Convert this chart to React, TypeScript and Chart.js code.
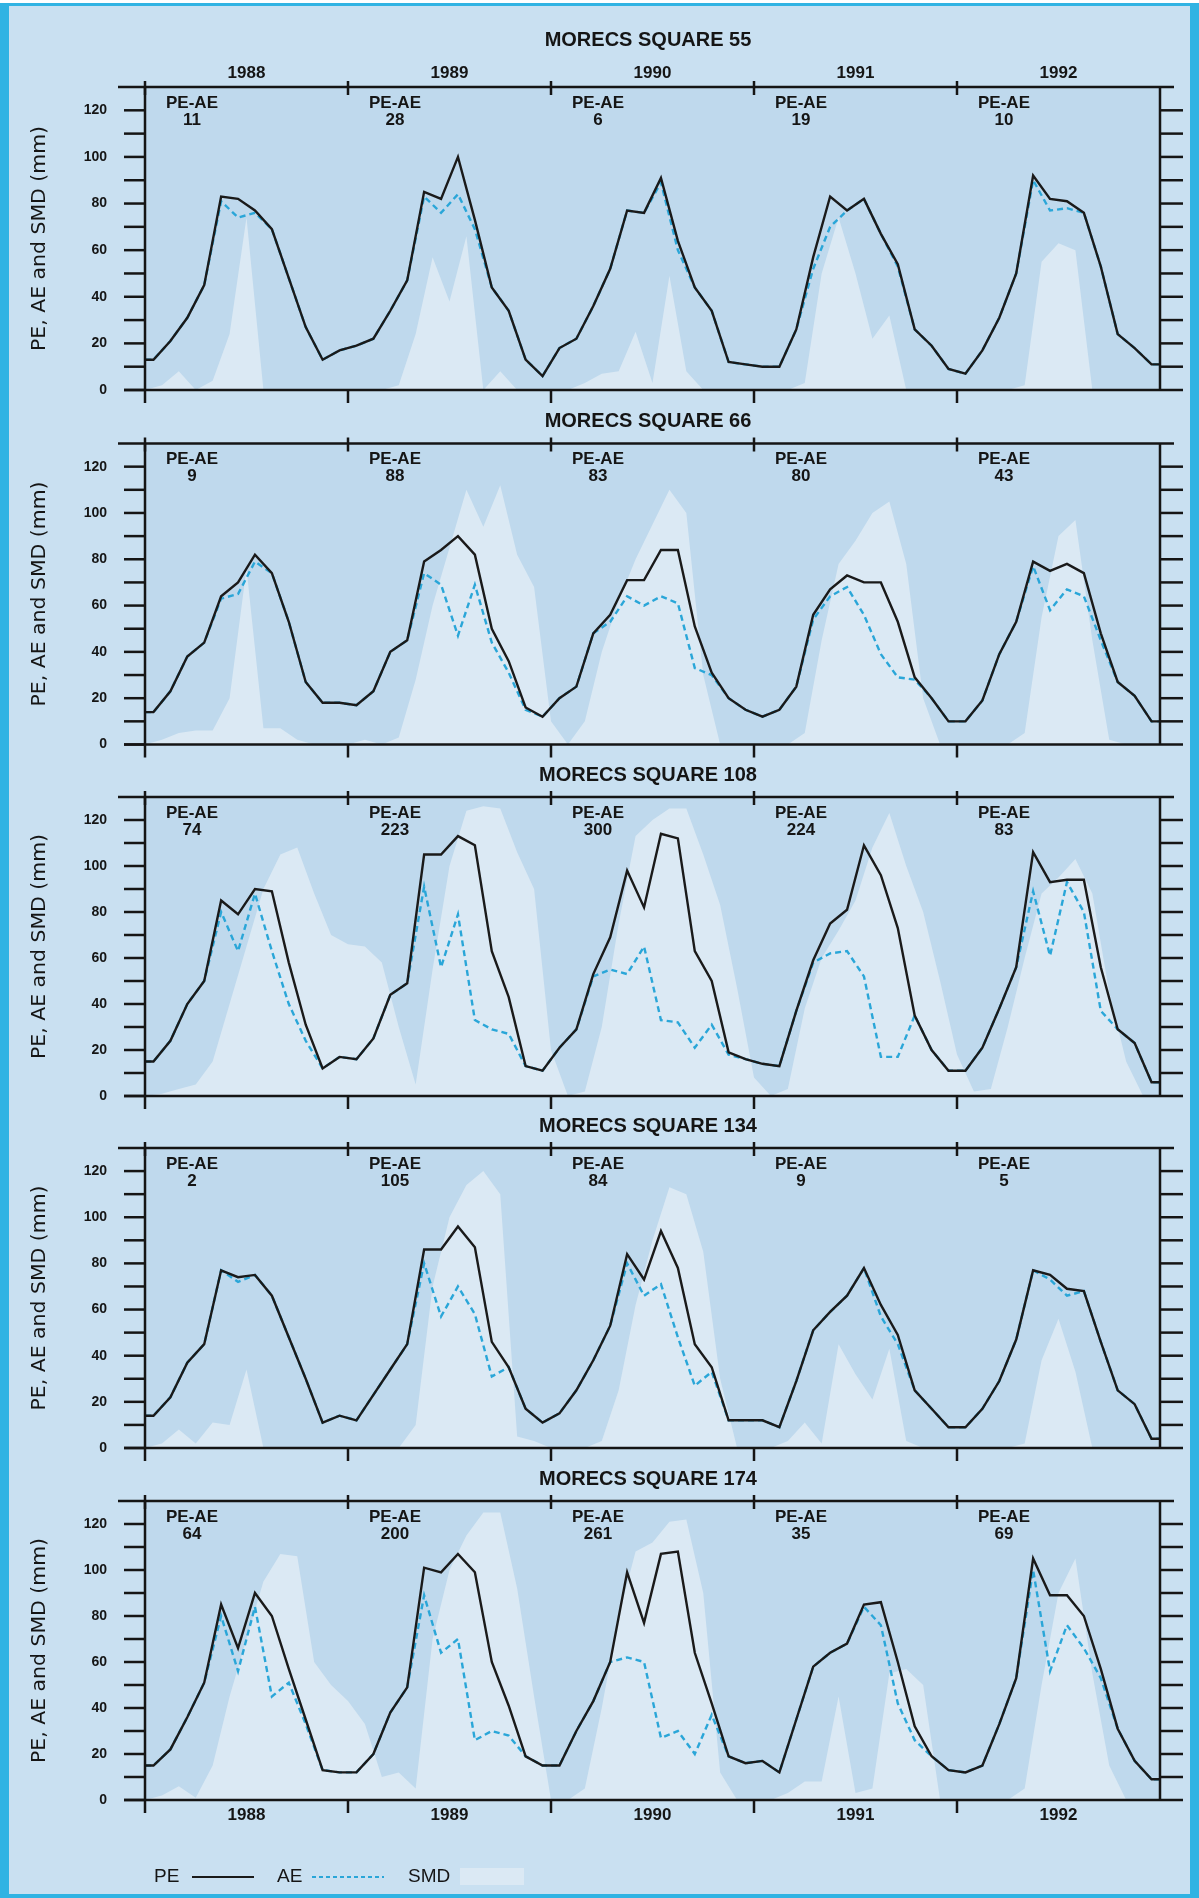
import React, { useEffect, useRef } from 'react';
import { Chart, registerables } from 'chart.js';

Chart.register(...registerables);

// ---------------- data ----------------
const YEARS = ['1988', '1989', '1990', '1991', '1992'];
const Y_TICKS = [0, 20, 40, 60, 80, 100, 120];
const TITLES = ['MORECS SQUARE 55', 'MORECS SQUARE 66', 'MORECS SQUARE 108', 'MORECS SQUARE 134', 'MORECS SQUARE 174'];

// monthly PE (mm), Jan 1988 .. Dec 1992
const PE_55 = [13, 21, 31, 45, 83, 82, 77, 69, 48, 27, 13, 17, 19, 22, 34, 47, 85, 82, 100, 73, 44, 34, 13, 6, 18, 22, 36, 52, 77, 76, 91, 64, 44, 34, 12, 11, 10, 10, 26, 57, 83, 77, 82, 67, 54, 26, 19, 9, 7, 17, 31, 50, 92, 82, 81, 76, 53, 24, 18, 11];
const AE_55 = [13, 21, 31, 45, 81, 74, 76, 69, 48, 27, 13, 17, 19, 22, 34, 47, 83, 76, 84, 69, 44, 34, 13, 6, 18, 22, 36, 52, 77, 76, 89, 60, 44, 34, 12, 11, 10, 10, 26, 52, 70, 77, 82, 67, 53, 26, 19, 9, 7, 17, 31, 50, 90, 77, 78, 76, 53, 24, 18, 11];
const SMD_55 = [0, 2, 8, 0, 4, 24, 74, 0, 0, 0, 0, 0, 0, 0, 0, 2, 24, 57, 38, 66, 0, 8, 0, 0, 0, 0, 3, 7, 8, 25, 3, 49, 8, 0, 0, 0, 0, 0, 0, 3, 50, 74, 50, 22, 32, 0, 0, 0, 0, 0, 0, 0, 2, 55, 63, 60, 0, 0, 0, 0, 0];
const PEAE_55 = ['11', '28', '6', '19', '10'];

const PE_66 = [14, 23, 38, 44, 64, 70, 82, 74, 53, 27, 18, 18, 17, 23, 40, 45, 79, 84, 90, 82, 50, 36, 16, 12, 20, 25, 48, 56, 71, 71, 84, 84, 51, 31, 20, 15, 12, 15, 25, 56, 67, 73, 70, 70, 53, 29, 20, 10, 10, 19, 39, 53, 79, 75, 78, 74, 48, 27, 21, 10];
const AE_66 = [14, 23, 38, 44, 63, 65, 79, 74, 53, 27, 18, 18, 17, 23, 40, 45, 74, 69, 47, 69, 44, 31, 15, 12, 20, 25, 48, 53, 64, 60, 64, 61, 33, 30, 20, 15, 12, 15, 25, 54, 64, 68, 56, 39, 29, 28, 20, 10, 10, 19, 39, 53, 77, 58, 67, 64, 45, 27, 21, 10];
const SMD_66 = [0, 2, 5, 6, 6, 20, 76, 7, 7, 2, 0, 0, 0, 2, 0, 3, 28, 60, 85, 110, 94, 112, 82, 68, 10, 0, 10, 40, 62, 80, 95, 110, 100, 30, 0, 0, 0, 0, 0, 5, 45, 78, 88, 100, 105, 78, 20, 0, 0, 0, 0, 0, 5, 55, 90, 97, 45, 2, 0, 0, 0];
const PEAE_66 = ['9', '88', '83', '80', '43'];

const PE_108 = [15, 24, 40, 50, 85, 79, 90, 89, 58, 31, 12, 17, 16, 25, 44, 49, 105, 105, 113, 109, 63, 43, 13, 11, 21, 29, 53, 69, 98, 82, 114, 112, 63, 50, 19, 16, 14, 13, 37, 59, 75, 81, 109, 96, 73, 35, 20, 11, 11, 21, 38, 56, 106, 93, 94, 94, 56, 29, 23, 6];
const AE_108 = [15, 24, 40, 50, 80, 63, 88, 63, 40, 24, 12, 17, 16, 25, 44, 49, 91, 56, 79, 33, 29, 27, 13, 11, 21, 29, 52, 55, 53, 65, 33, 32, 21, 31, 18, 16, 14, 13, 37, 58, 62, 63, 52, 17, 17, 35, 20, 11, 11, 21, 38, 56, 89, 61, 93, 80, 37, 29, 23, 6];
const SMD_108 = [0, 1, 3, 5, 15, 40, 65, 90, 105, 108, 88, 70, 66, 65, 58, 30, 5, 55, 100, 124, 126, 125, 106, 90, 20, 0, 2, 30, 75, 113, 120, 125, 125, 105, 83, 47, 8, 0, 3, 38, 60, 72, 85, 108, 123, 100, 80, 50, 18, 2, 3, 30, 60, 88, 95, 103, 88, 45, 15, 0, 0];
const PEAE_108 = ['74', '223', '300', '224', '83'];

const PE_134 = [14, 22, 37, 45, 77, 74, 75, 66, 48, 30, 11, 14, 12, 23, 34, 45, 86, 86, 96, 87, 46, 35, 17, 11, 15, 25, 38, 53, 84, 73, 94, 78, 45, 35, 12, 12, 12, 9, 29, 51, 59, 66, 78, 62, 49, 25, 17, 9, 9, 17, 29, 47, 77, 75, 69, 68, 46, 25, 19, 4];
const AE_134 = [14, 22, 37, 45, 77, 72, 75, 66, 48, 30, 11, 14, 12, 23, 34, 45, 80, 57, 70, 58, 31, 35, 17, 11, 15, 25, 38, 53, 80, 66, 71, 48, 27, 33, 12, 12, 12, 9, 29, 51, 59, 66, 78, 57, 45, 25, 17, 9, 9, 17, 29, 47, 77, 73, 66, 68, 46, 25, 19, 4];
const SMD_134 = [0, 2, 8, 2, 11, 10, 34, 0, 0, 0, 0, 0, 0, 0, 0, 0, 10, 70, 100, 114, 120, 110, 5, 3, 0, 0, 0, 3, 25, 62, 90, 113, 110, 85, 30, 0, 0, 0, 3, 11, 2, 45, 32, 21, 43, 3, 0, 0, 0, 0, 0, 0, 2, 38, 56, 33, 0, 0, 0, 0, 0];
const PEAE_134 = ['2', '105', '84', '9', '5'];

const PE_174 = [15, 22, 36, 51, 85, 66, 90, 80, 57, 35, 13, 12, 12, 20, 38, 49, 101, 99, 107, 99, 60, 41, 19, 15, 15, 30, 43, 60, 99, 77, 107, 108, 64, 42, 19, 16, 17, 12, 35, 58, 64, 68, 85, 86, 60, 32, 19, 13, 12, 15, 33, 53, 105, 89, 89, 80, 57, 31, 17, 9];
const AE_174 = [15, 22, 36, 51, 80, 56, 84, 45, 51, 33, 13, 12, 12, 20, 38, 49, 89, 64, 70, 26, 30, 28, 19, 15, 15, 30, 43, 60, 62, 60, 27, 30, 20, 37, 19, 16, 17, 12, 35, 58, 64, 68, 84, 76, 42, 26, 19, 13, 12, 15, 33, 53, 100, 56, 76, 66, 53, 31, 17, 9];
const SMD_174 = [0, 2, 6, 1, 15, 45, 70, 95, 107, 106, 60, 50, 43, 33, 10, 12, 5, 70, 100, 115, 125, 125, 92, 45, 0, 0, 5, 40, 80, 108, 112, 121, 122, 90, 12, 0, 0, 0, 3, 8, 8, 45, 3, 5, 55, 57, 50, 0, 0, 0, 0, 0, 5, 50, 90, 105, 55, 15, 0, 0, 0];
const PEAE_174 = ['64', '200', '261', '35', '69'];

const PANELS = [
  { title: TITLES[0], pe: PE_55, ae: AE_55, smd: SMD_55, peae: PEAE_55 },
  { title: TITLES[1], pe: PE_66, ae: AE_66, smd: SMD_66, peae: PEAE_66 },
  { title: TITLES[2], pe: PE_108, ae: AE_108, smd: SMD_108, peae: PEAE_108 },
  { title: TITLES[3], pe: PE_134, ae: AE_134, smd: SMD_134, peae: PEAE_134 },
  { title: TITLES[4], pe: PE_174, ae: AE_174, smd: SMD_174, peae: PEAE_174 },
];

// ---------------- layout & style ----------------
const W = 1199;
const H = 1898;
const X_LEFT = 145;
const X_RIGHT = 1160;
const PANEL_TOP = [87, 443.5, 797, 1148, 1501];
const PANEL_ZERO = [390, 744.5, 1096, 1448, 1800];
const TITLE_Y = [40, 421.5, 775.5, 1126.5, 1479];

const FRAME = '#30b3e3';
const INNER_BG = '#c9e0f1';
const PLOT_BG = '#bfd9ed';
const SMD_FILL = '#dbe9f4';
const PE_COLOR = '#1a1a1a';
const AE_COLOR = '#2aa6d8';
const INK = '#151515';
const SANS = "'Liberation Sans', Arial, Helvetica, sans-serif";

function fitText(ctx: CanvasRenderingContext2D, text: string, x: number, y: number, font: string, width?: number) {
  ctx.font = font;
  if (!width) {
    ctx.fillText(text, x, y);
    return;
  }
  const m = ctx.measureText(text).width;
  ctx.save();
  ctx.translate(x, y);
  ctx.scale(width / m, 1);
  ctx.fillText(text, 0, 0);
  ctx.restore();
}

function makeDecor(p: number) {
  const panel = PANELS[p];
  return {
    id: 'decor' + p,
    beforeDraw(chart: any) {
      const { ctx, chartArea: a } = chart;
      ctx.save();
      ctx.fillStyle = PLOT_BG;
      ctx.fillRect(a.left, a.top, a.right - a.left, a.bottom - a.top);
      ctx.restore();
    },
    afterDraw(chart: any) {
      const ctx: CanvasRenderingContext2D = chart.ctx;
      const xs = chart.scales.x;
      const ys = chart.scales.y;
      const left = xs.getPixelForValue(0);
      const right = xs.getPixelForValue(60);
      const top = ys.getPixelForValue(130);
      const zero = ys.getPixelForValue(0);
      ctx.save();
      ctx.strokeStyle = INK;
      ctx.lineWidth = 2.5;
      ctx.lineCap = 'butt';
      const line = (x1: number, y1: number, x2: number, y2: number) => {
        ctx.beginPath();
        ctx.moveTo(x1, y1);
        ctx.lineTo(x2, y2);
        ctx.stroke();
      };
      // frame of the plot
      line(left - 27, top, right + 14, top);
      line(left - 21, zero, right + 23, zero);
      line(left, top, left, zero);
      line(right, top, right, zero);
      // y ticks
      for (let v = 0; v <= 120; v += 10) {
        const y = ys.getPixelForValue(v);
        line(left - 21, y, left, y);
        if (v > 0) line(right, y, right + 23, y);
      }
      // year ticks
      for (let j = 0; j < YEARS.length; j++) {
        const x = xs.getPixelForValue(j * 12);
        line(x, top - 6, x, top + 8);
        line(x, zero, x, zero + 13);
      }
      // text
      ctx.fillStyle = INK;
      ctx.textBaseline = 'middle';
      ctx.textAlign = 'right';
      for (const v of Y_TICKS) {
        fitText(ctx, String(v), left - 38, ys.getPixelForValue(v), `bold 14px ${SANS}`);
      }
      ctx.textAlign = 'center';
      for (let j = 0; j < YEARS.length; j++) {
        const cx = xs.getPixelForValue(j * 12) + 47;
        fitText(ctx, 'PE-AE', cx, top + 16, `bold 17px ${SANS}`);
        fitText(ctx, panel.peae[j], cx, top + 33, `bold 17px ${SANS}`);
        const mid = xs.getPixelForValue(j * 12 + 6);
        if (p === 0) fitText(ctx, YEARS[j], mid, top - 14, `bold 17px ${SANS}`);
        if (p === PANELS.length - 1) fitText(ctx, YEARS[j], mid, zero + 15, `bold 17px ${SANS}`);
      }
      fitText(ctx, panel.title, 648, TITLE_Y[p], `bold 20px ${SANS}`);
      // y axis title
      ctx.save();
      ctx.translate(40, (top + zero) / 2);
      ctx.rotate(-Math.PI / 2);
      fitText(ctx, 'PE, AE and SMD (mm)', 0, 0, "20px 'DejaVu Sans', sans-serif", 225);
      ctx.restore();

      // legend (bottom of page)
      if (p === PANELS.length - 1) {
        const ly = 1877;
        ctx.textAlign = 'left';
        fitText(ctx, 'PE', 154, ly, `19px ${SANS}`);
        ctx.lineWidth = 2;
        ctx.strokeStyle = PE_COLOR;
        line(192, ly, 254, ly);
        fitText(ctx, 'AE', 277, ly, `19px ${SANS}`);
        ctx.strokeStyle = AE_COLOR;
        ctx.setLineDash([4, 3]);
        line(312, ly, 384, ly);
        ctx.setLineDash([]);
        fitText(ctx, 'SMD', 408, ly, `19px ${SANS}`);
        ctx.fillStyle = SMD_FILL;
        ctx.fillRect(460, ly - 9, 64, 17);
      }
      ctx.restore();
    },
  };
}

function monthly(values: number[]) {
  // values sit at month mid-points; line carried to the panel edges
  return [
    { x: 0, y: values[0] },
    ...values.map((v, i) => ({ x: i + 0.5, y: v })),
    { x: 60, y: values[values.length - 1] },
  ];
}

function Panel({ idx }: { idx: number }) {
  const ref = useRef<HTMLCanvasElement | null>(null);
  useEffect(() => {
    if (!ref.current) return;
    const panel = PANELS[idx];
    const chart = new Chart(ref.current, {
      type: 'line',
      data: {
        datasets: [
          {
            label: 'SMD',
            data: panel.smd.map((v, k) => ({ x: k, y: v })),
            fill: 'origin',
            backgroundColor: SMD_FILL,
            borderColor: 'rgba(0,0,0,0)',
            borderWidth: 0,
            pointRadius: 0,
            tension: 0,
            order: 3,
          },
          {
            label: 'AE',
            data: monthly(panel.ae),
            fill: false,
            borderColor: AE_COLOR,
            borderWidth: 2.4,
            borderDash: [6, 4],
            pointRadius: 0,
            tension: 0,
            order: 2,
          },
          {
            label: 'PE',
            data: monthly(panel.pe),
            fill: false,
            borderColor: PE_COLOR,
            borderWidth: 2.4,
            pointRadius: 0,
            tension: 0,
            order: 1,
          },
        ],
      } as any,
      options: {
        animation: false,
        responsive: false,
        devicePixelRatio: 1,
        events: [],
        layout: {
          padding: {
            left: X_LEFT,
            right: W - X_RIGHT,
            top: PANEL_TOP[idx],
            bottom: H - PANEL_ZERO[idx],
          },
        },
        scales: {
          x: { type: 'linear', min: 0, max: 60, display: false },
          y: { type: 'linear', min: 0, max: 130, display: false },
        },
        plugins: {
          legend: { display: false },
          tooltip: { enabled: false },
          title: { display: false },
        },
      } as any,
      plugins: [makeDecor(idx)],
    });
    return () => chart.destroy();
  }, [idx]);
  return (
    <canvas
      ref={ref}
      width={W}
      height={H}
      style={{ position: 'absolute', left: 0, top: 0, width: W, height: H }}
    />
  );
}

export default function App() {
  return (
    <div style={{ position: 'absolute', left: 0, top: 0, width: W, height: H, background: '#ffffff', overflow: 'hidden' }}>
      <div
        style={{
          position: 'absolute',
          left: 0,
          top: 3,
          width: W,
          height: H - 3,
          boxSizing: 'border-box',
          borderLeft: `9px solid ${FRAME}`,
          borderRight: `9px solid ${FRAME}`,
          borderTop: `3px solid ${FRAME}`,
          borderBottom: `4px solid ${FRAME}`,
          background: INNER_BG,
        }}
      />
      {PANELS.map((_, i) => (
        <Panel key={i} idx={i} />
      ))}
    </div>
  );
}
